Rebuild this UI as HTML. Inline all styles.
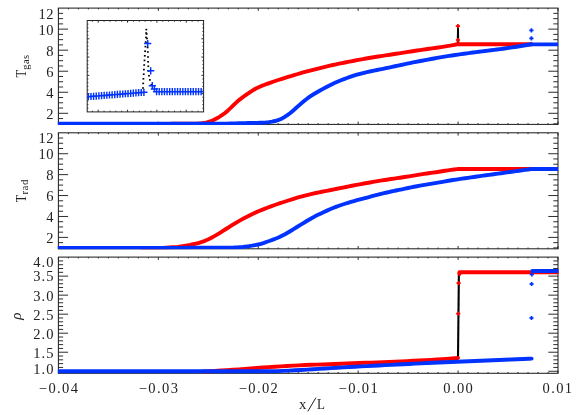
<!DOCTYPE html>
<html><head><meta charset="utf-8"><title>chart</title>
<style>html,body{margin:0;padding:0;background:#fff;}body{width:581px;height:415px;overflow:hidden;font-family:"Liberation Serif",serif;}svg{display:block;will-change:transform;}</style></head>
<body>
<svg width="581" height="415" viewBox="0 0 581 415">
<rect width="581" height="415" fill="#fff"/>
<rect x="58.40" y="8.10" width="499.60" height="116.30" fill="none" stroke="#222" stroke-width="1.05"/>
<path d="M58.40,8.10 v2.80 M58.40,124.40 v-2.80 M68.39,8.10 v1.30 M68.39,124.40 v-1.30 M78.38,8.10 v1.30 M78.38,124.40 v-1.30 M88.38,8.10 v1.30 M88.38,124.40 v-1.30 M98.37,8.10 v1.30 M98.37,124.40 v-1.30 M108.36,8.10 v1.30 M108.36,124.40 v-1.30 M118.35,8.10 v1.30 M118.35,124.40 v-1.30 M128.34,8.10 v1.30 M128.34,124.40 v-1.30 M138.34,8.10 v1.30 M138.34,124.40 v-1.30 M148.33,8.10 v1.30 M148.33,124.40 v-1.30 M158.32,8.10 v2.80 M158.32,124.40 v-2.80 M168.31,8.10 v1.30 M168.31,124.40 v-1.30 M178.30,8.10 v1.30 M178.30,124.40 v-1.30 M188.30,8.10 v1.30 M188.30,124.40 v-1.30 M198.29,8.10 v1.30 M198.29,124.40 v-1.30 M208.28,8.10 v1.30 M208.28,124.40 v-1.30 M218.27,8.10 v1.30 M218.27,124.40 v-1.30 M228.26,8.10 v1.30 M228.26,124.40 v-1.30 M238.26,8.10 v1.30 M238.26,124.40 v-1.30 M248.25,8.10 v1.30 M248.25,124.40 v-1.30 M258.24,8.10 v2.80 M258.24,124.40 v-2.80 M268.23,8.10 v1.30 M268.23,124.40 v-1.30 M278.22,8.10 v1.30 M278.22,124.40 v-1.30 M288.22,8.10 v1.30 M288.22,124.40 v-1.30 M298.21,8.10 v1.30 M298.21,124.40 v-1.30 M308.20,8.10 v1.30 M308.20,124.40 v-1.30 M318.19,8.10 v1.30 M318.19,124.40 v-1.30 M328.18,8.10 v1.30 M328.18,124.40 v-1.30 M338.18,8.10 v1.30 M338.18,124.40 v-1.30 M348.17,8.10 v1.30 M348.17,124.40 v-1.30 M358.16,8.10 v2.80 M358.16,124.40 v-2.80 M368.15,8.10 v1.30 M368.15,124.40 v-1.30 M378.14,8.10 v1.30 M378.14,124.40 v-1.30 M388.14,8.10 v1.30 M388.14,124.40 v-1.30 M398.13,8.10 v1.30 M398.13,124.40 v-1.30 M408.12,8.10 v1.30 M408.12,124.40 v-1.30 M418.11,8.10 v1.30 M418.11,124.40 v-1.30 M428.10,8.10 v1.30 M428.10,124.40 v-1.30 M438.10,8.10 v1.30 M438.10,124.40 v-1.30 M448.09,8.10 v1.30 M448.09,124.40 v-1.30 M458.08,8.10 v2.80 M458.08,124.40 v-2.80 M468.07,8.10 v1.30 M468.07,124.40 v-1.30 M478.06,8.10 v1.30 M478.06,124.40 v-1.30 M488.06,8.10 v1.30 M488.06,124.40 v-1.30 M498.05,8.10 v1.30 M498.05,124.40 v-1.30 M508.04,8.10 v1.30 M508.04,124.40 v-1.30 M518.03,8.10 v1.30 M518.03,124.40 v-1.30 M528.02,8.10 v1.30 M528.02,124.40 v-1.30 M538.02,8.10 v1.30 M538.02,124.40 v-1.30 M548.01,8.10 v1.30 M548.01,124.40 v-1.30 M558.00,8.10 v2.80 M558.00,124.40 v-2.80 " stroke="#222" stroke-width="0.95" fill="none"/>
<rect x="58.40" y="132.80" width="499.60" height="116.00" fill="none" stroke="#222" stroke-width="1.05"/>
<path d="M58.40,132.80 v2.80 M58.40,248.80 v-2.80 M68.39,132.80 v1.30 M68.39,248.80 v-1.30 M78.38,132.80 v1.30 M78.38,248.80 v-1.30 M88.38,132.80 v1.30 M88.38,248.80 v-1.30 M98.37,132.80 v1.30 M98.37,248.80 v-1.30 M108.36,132.80 v1.30 M108.36,248.80 v-1.30 M118.35,132.80 v1.30 M118.35,248.80 v-1.30 M128.34,132.80 v1.30 M128.34,248.80 v-1.30 M138.34,132.80 v1.30 M138.34,248.80 v-1.30 M148.33,132.80 v1.30 M148.33,248.80 v-1.30 M158.32,132.80 v2.80 M158.32,248.80 v-2.80 M168.31,132.80 v1.30 M168.31,248.80 v-1.30 M178.30,132.80 v1.30 M178.30,248.80 v-1.30 M188.30,132.80 v1.30 M188.30,248.80 v-1.30 M198.29,132.80 v1.30 M198.29,248.80 v-1.30 M208.28,132.80 v1.30 M208.28,248.80 v-1.30 M218.27,132.80 v1.30 M218.27,248.80 v-1.30 M228.26,132.80 v1.30 M228.26,248.80 v-1.30 M238.26,132.80 v1.30 M238.26,248.80 v-1.30 M248.25,132.80 v1.30 M248.25,248.80 v-1.30 M258.24,132.80 v2.80 M258.24,248.80 v-2.80 M268.23,132.80 v1.30 M268.23,248.80 v-1.30 M278.22,132.80 v1.30 M278.22,248.80 v-1.30 M288.22,132.80 v1.30 M288.22,248.80 v-1.30 M298.21,132.80 v1.30 M298.21,248.80 v-1.30 M308.20,132.80 v1.30 M308.20,248.80 v-1.30 M318.19,132.80 v1.30 M318.19,248.80 v-1.30 M328.18,132.80 v1.30 M328.18,248.80 v-1.30 M338.18,132.80 v1.30 M338.18,248.80 v-1.30 M348.17,132.80 v1.30 M348.17,248.80 v-1.30 M358.16,132.80 v2.80 M358.16,248.80 v-2.80 M368.15,132.80 v1.30 M368.15,248.80 v-1.30 M378.14,132.80 v1.30 M378.14,248.80 v-1.30 M388.14,132.80 v1.30 M388.14,248.80 v-1.30 M398.13,132.80 v1.30 M398.13,248.80 v-1.30 M408.12,132.80 v1.30 M408.12,248.80 v-1.30 M418.11,132.80 v1.30 M418.11,248.80 v-1.30 M428.10,132.80 v1.30 M428.10,248.80 v-1.30 M438.10,132.80 v1.30 M438.10,248.80 v-1.30 M448.09,132.80 v1.30 M448.09,248.80 v-1.30 M458.08,132.80 v2.80 M458.08,248.80 v-2.80 M468.07,132.80 v1.30 M468.07,248.80 v-1.30 M478.06,132.80 v1.30 M478.06,248.80 v-1.30 M488.06,132.80 v1.30 M488.06,248.80 v-1.30 M498.05,132.80 v1.30 M498.05,248.80 v-1.30 M508.04,132.80 v1.30 M508.04,248.80 v-1.30 M518.03,132.80 v1.30 M518.03,248.80 v-1.30 M528.02,132.80 v1.30 M528.02,248.80 v-1.30 M538.02,132.80 v1.30 M538.02,248.80 v-1.30 M548.01,132.80 v1.30 M548.01,248.80 v-1.30 M558.00,132.80 v2.80 M558.00,248.80 v-2.80 " stroke="#222" stroke-width="0.95" fill="none"/>
<rect x="58.40" y="257.10" width="499.60" height="116.20" fill="none" stroke="#222" stroke-width="1.05"/>
<path d="M58.40,257.10 v2.80 M58.40,373.30 v-2.80 M68.39,257.10 v1.30 M68.39,373.30 v-1.30 M78.38,257.10 v1.30 M78.38,373.30 v-1.30 M88.38,257.10 v1.30 M88.38,373.30 v-1.30 M98.37,257.10 v1.30 M98.37,373.30 v-1.30 M108.36,257.10 v1.30 M108.36,373.30 v-1.30 M118.35,257.10 v1.30 M118.35,373.30 v-1.30 M128.34,257.10 v1.30 M128.34,373.30 v-1.30 M138.34,257.10 v1.30 M138.34,373.30 v-1.30 M148.33,257.10 v1.30 M148.33,373.30 v-1.30 M158.32,257.10 v2.80 M158.32,373.30 v-2.80 M168.31,257.10 v1.30 M168.31,373.30 v-1.30 M178.30,257.10 v1.30 M178.30,373.30 v-1.30 M188.30,257.10 v1.30 M188.30,373.30 v-1.30 M198.29,257.10 v1.30 M198.29,373.30 v-1.30 M208.28,257.10 v1.30 M208.28,373.30 v-1.30 M218.27,257.10 v1.30 M218.27,373.30 v-1.30 M228.26,257.10 v1.30 M228.26,373.30 v-1.30 M238.26,257.10 v1.30 M238.26,373.30 v-1.30 M248.25,257.10 v1.30 M248.25,373.30 v-1.30 M258.24,257.10 v2.80 M258.24,373.30 v-2.80 M268.23,257.10 v1.30 M268.23,373.30 v-1.30 M278.22,257.10 v1.30 M278.22,373.30 v-1.30 M288.22,257.10 v1.30 M288.22,373.30 v-1.30 M298.21,257.10 v1.30 M298.21,373.30 v-1.30 M308.20,257.10 v1.30 M308.20,373.30 v-1.30 M318.19,257.10 v1.30 M318.19,373.30 v-1.30 M328.18,257.10 v1.30 M328.18,373.30 v-1.30 M338.18,257.10 v1.30 M338.18,373.30 v-1.30 M348.17,257.10 v1.30 M348.17,373.30 v-1.30 M358.16,257.10 v2.80 M358.16,373.30 v-2.80 M368.15,257.10 v1.30 M368.15,373.30 v-1.30 M378.14,257.10 v1.30 M378.14,373.30 v-1.30 M388.14,257.10 v1.30 M388.14,373.30 v-1.30 M398.13,257.10 v1.30 M398.13,373.30 v-1.30 M408.12,257.10 v1.30 M408.12,373.30 v-1.30 M418.11,257.10 v1.30 M418.11,373.30 v-1.30 M428.10,257.10 v1.30 M428.10,373.30 v-1.30 M438.10,257.10 v1.30 M438.10,373.30 v-1.30 M448.09,257.10 v1.30 M448.09,373.30 v-1.30 M458.08,257.10 v2.80 M458.08,373.30 v-2.80 M468.07,257.10 v1.30 M468.07,373.30 v-1.30 M478.06,257.10 v1.30 M478.06,373.30 v-1.30 M488.06,257.10 v1.30 M488.06,373.30 v-1.30 M498.05,257.10 v1.30 M498.05,373.30 v-1.30 M508.04,257.10 v1.30 M508.04,373.30 v-1.30 M518.03,257.10 v1.30 M518.03,373.30 v-1.30 M528.02,257.10 v1.30 M528.02,373.30 v-1.30 M538.02,257.10 v1.30 M538.02,373.30 v-1.30 M548.01,257.10 v1.30 M548.01,373.30 v-1.30 M558.00,257.10 v2.80 M558.00,373.30 v-2.80 " stroke="#222" stroke-width="0.95" fill="none"/>
<path d="M58.40,13.36 h4.70 M558.00,13.36 h-4.70 M58.40,18.62 h4.70 M558.00,18.62 h-4.70 M58.40,23.88 h4.70 M558.00,23.88 h-4.70 M58.40,29.14 h9.70 M558.00,29.14 h-9.70 M58.40,34.40 h4.70 M558.00,34.40 h-4.70 M58.40,39.66 h4.70 M558.00,39.66 h-4.70 M58.40,44.92 h4.70 M558.00,44.92 h-4.70 M58.40,50.18 h9.70 M558.00,50.18 h-9.70 M58.40,55.44 h4.70 M558.00,55.44 h-4.70 M58.40,60.70 h4.70 M558.00,60.70 h-4.70 M58.40,65.96 h4.70 M558.00,65.96 h-4.70 M58.40,71.22 h9.70 M558.00,71.22 h-9.70 M58.40,76.48 h4.70 M558.00,76.48 h-4.70 M58.40,81.74 h4.70 M558.00,81.74 h-4.70 M58.40,87.00 h4.70 M558.00,87.00 h-4.70 M58.40,92.26 h9.70 M558.00,92.26 h-9.70 M58.40,97.52 h4.70 M558.00,97.52 h-4.70 M58.40,102.78 h4.70 M558.00,102.78 h-4.70 M58.40,108.04 h4.70 M558.00,108.04 h-4.70 M58.40,113.30 h9.70 M558.00,113.30 h-9.70 M58.40,118.56 h4.70 M558.00,118.56 h-4.70 M58.40,123.82 h4.70 M558.00,123.82 h-4.70 " stroke="#222" stroke-width="0.95" fill="none"/>
<path d="M58.40,138.03 h4.70 M558.00,138.03 h-4.70 M58.40,143.26 h4.70 M558.00,143.26 h-4.70 M58.40,148.49 h4.70 M558.00,148.49 h-4.70 M58.40,153.72 h9.70 M558.00,153.72 h-9.70 M58.40,158.95 h4.70 M558.00,158.95 h-4.70 M58.40,164.18 h4.70 M558.00,164.18 h-4.70 M58.40,169.41 h4.70 M558.00,169.41 h-4.70 M58.40,174.64 h9.70 M558.00,174.64 h-9.70 M58.40,179.87 h4.70 M558.00,179.87 h-4.70 M58.40,185.10 h4.70 M558.00,185.10 h-4.70 M58.40,190.33 h4.70 M558.00,190.33 h-4.70 M58.40,195.56 h9.70 M558.00,195.56 h-9.70 M58.40,200.79 h4.70 M558.00,200.79 h-4.70 M58.40,206.02 h4.70 M558.00,206.02 h-4.70 M58.40,211.25 h4.70 M558.00,211.25 h-4.70 M58.40,216.48 h9.70 M558.00,216.48 h-9.70 M58.40,221.71 h4.70 M558.00,221.71 h-4.70 M58.40,226.94 h4.70 M558.00,226.94 h-4.70 M58.40,232.17 h4.70 M558.00,232.17 h-4.70 M58.40,237.40 h9.70 M558.00,237.40 h-9.70 M58.40,242.63 h4.70 M558.00,242.63 h-4.70 M58.40,247.86 h4.70 M558.00,247.86 h-4.70 " stroke="#222" stroke-width="0.95" fill="none"/>
<path d="M58.40,260.91 h4.70 M558.00,260.91 h-4.70 M58.40,264.71 h4.70 M558.00,264.71 h-4.70 M58.40,268.51 h4.70 M558.00,268.51 h-4.70 M58.40,272.32 h4.70 M558.00,272.32 h-4.70 M58.40,276.12 h9.70 M558.00,276.12 h-9.70 M58.40,279.93 h4.70 M558.00,279.93 h-4.70 M58.40,283.74 h4.70 M558.00,283.74 h-4.70 M58.40,287.54 h4.70 M558.00,287.54 h-4.70 M58.40,291.35 h4.70 M558.00,291.35 h-4.70 M58.40,295.15 h9.70 M558.00,295.15 h-9.70 M58.40,298.96 h4.70 M558.00,298.96 h-4.70 M58.40,302.76 h4.70 M558.00,302.76 h-4.70 M58.40,306.56 h4.70 M558.00,306.56 h-4.70 M58.40,310.37 h4.70 M558.00,310.37 h-4.70 M58.40,314.18 h9.70 M558.00,314.18 h-9.70 M58.40,317.98 h4.70 M558.00,317.98 h-4.70 M58.40,321.79 h4.70 M558.00,321.79 h-4.70 M58.40,325.59 h4.70 M558.00,325.59 h-4.70 M58.40,329.40 h4.70 M558.00,329.40 h-4.70 M58.40,333.20 h9.70 M558.00,333.20 h-9.70 M58.40,337.00 h4.70 M558.00,337.00 h-4.70 M58.40,340.81 h4.70 M558.00,340.81 h-4.70 M58.40,344.62 h4.70 M558.00,344.62 h-4.70 M58.40,348.42 h4.70 M558.00,348.42 h-4.70 M58.40,352.23 h9.70 M558.00,352.23 h-9.70 M58.40,356.03 h4.70 M558.00,356.03 h-4.70 M58.40,359.84 h4.70 M558.00,359.84 h-4.70 M58.40,363.64 h4.70 M558.00,363.64 h-4.70 M58.40,367.45 h4.70 M558.00,367.45 h-4.70 M58.40,371.25 h9.70 M558.00,371.25 h-9.70 " stroke="#222" stroke-width="0.95" fill="none"/>
<clipPath id="cp0"><rect x="57.90" y="7.60" width="500.60" height="117.30"/></clipPath>
<clipPath id="cp1"><rect x="57.90" y="132.30" width="500.60" height="117.00"/></clipPath>
<clipPath id="cp2"><rect x="57.90" y="256.60" width="500.60" height="117.20"/></clipPath>
<g clip-path="url(#cp0)">
<path d="M456.7,44 L457.1,26.5 L458.9,26.5 L459.3,44 Z" fill="#000"/>
<path d="M171.00,123.76 L174.00,123.76 L177.00,123.76 L180.00,123.76 L183.00,123.76 L186.00,123.76 L189.00,123.59 L192.00,123.58 L195.00,123.58 L198.00,123.56 L201.00,123.38 L204.00,123.05 L207.00,122.43 L210.00,121.48 L213.00,120.31 L216.00,118.81 L219.00,117.07 L222.00,115.20 L225.00,113.04 L228.00,110.44 L231.00,107.65 L234.00,104.71 L237.00,101.86 L240.00,99.35 L243.00,97.03 L246.00,94.85 L249.00,92.84 L252.00,90.86 L255.00,89.03 L258.00,87.56 L261.00,86.19 L264.00,85.03 L267.00,83.96 L270.00,82.84 L273.00,81.77 L276.00,80.75 L279.00,79.77 L282.00,78.82 L285.00,77.89 L288.00,76.98 L291.00,76.09 L294.00,75.16 L297.00,74.24 L300.00,73.35 L303.00,72.47 L306.00,71.66 L309.00,70.87 L312.00,70.09 L315.00,69.34 L318.00,68.55 L321.00,67.78 L324.00,67.02 L327.00,66.32 L330.00,65.65 L333.00,64.99 L336.00,64.34 L339.00,63.71 L342.00,63.09 L345.00,62.48 L348.00,61.88 L351.00,61.29 L354.00,60.72 L357.00,60.15 L360.00,59.59 L363.00,59.05 L366.00,58.51 L369.00,57.99 L372.00,57.50 L375.00,57.02 L378.00,56.55 L381.00,56.08 L384.00,55.62 L387.00,55.17 L390.00,54.72 L393.00,54.26 L396.00,53.80 L399.00,53.34 L402.00,52.89 L405.00,52.41 L408.00,51.93 L411.00,51.46 L414.00,50.99 L417.00,50.54 L420.00,50.10 L423.00,49.66 L426.00,49.22 L429.00,48.80 L432.00,48.38 L435.00,47.96 L438.00,47.54 L441.00,47.07 L444.00,46.59 L447.00,46.12 L450.00,45.64 L453.00,45.07 L456.00,44.49 L458.00,44.10" fill="none" stroke="#ff0000" stroke-width="3.90" stroke-linecap="round" stroke-linejoin="round"/>
<path d="M458.00,44.20 L532.50,44.20" fill="none" stroke="#ff0000" stroke-width="3.90" stroke-linecap="butt" stroke-linejoin="round"/>
<path d="M455.80,26.10 h4.20 M457.90,24.00 v4.20" stroke="#ff0000" stroke-width="1.70" fill="none"/>
<rect x="456.90" y="25.10" width="2.00" height="2.00" fill="#ff0000" transform="rotate(45 457.90 26.10)"/>
<path d="M455.90,40.00 h4.20 M458.00,37.90 v4.20" stroke="#ff0000" stroke-width="1.70" fill="none"/>
<rect x="457.00" y="39.00" width="2.00" height="2.00" fill="#ff0000" transform="rotate(45 458.00 40.00)"/>
<path d="M58.00,123.60 L200.00,123.60 L203.00,123.60 L206.00,123.60 L209.00,123.60 L212.00,123.60 L215.00,123.60 L218.00,123.60 L221.00,123.60 L224.00,123.60 L227.00,123.58 L230.00,123.52 L233.00,123.45 L236.00,123.37 L239.00,123.28 L242.00,123.21 L245.00,123.14 L248.00,123.07 L251.00,123.00 L254.00,122.92 L257.00,122.85 L260.00,122.74 L263.00,122.64 L266.00,122.46 L269.00,122.15 L272.00,121.64 L275.00,121.02 L278.00,120.16 L281.00,118.93 L284.00,117.36 L287.00,115.42 L290.00,113.23 L293.00,110.71 L296.00,108.03 L299.00,105.34 L302.00,102.72 L305.00,100.24 L308.00,97.93 L311.00,95.87 L314.00,93.99 L317.00,92.23 L320.00,90.56 L323.00,88.90 L326.00,87.26 L329.00,85.69 L332.00,84.16 L335.00,82.81 L338.00,81.51 L341.00,80.27 L344.00,79.09 L347.00,77.95 L350.00,76.88 L353.00,75.88 L356.00,74.96 L359.00,74.09 L362.00,73.29 L365.00,72.55 L368.00,71.85 L371.00,71.23 L374.00,70.62 L377.00,70.02 L380.00,69.41 L383.00,68.80 L386.00,68.18 L389.00,67.54 L392.00,66.91 L395.00,66.27 L398.00,65.64 L401.00,65.01 L404.00,64.36 L407.00,63.71 L410.00,63.07 L413.00,62.44 L416.00,61.85 L419.00,61.28 L422.00,60.72 L425.00,60.17 L428.00,59.60 L431.00,59.03 L434.00,58.47 L437.00,57.93 L440.00,57.40 L443.00,56.89 L446.00,56.40 L449.00,55.92 L452.00,55.46 L455.00,55.00 L458.00,54.56 L461.00,54.13 L464.00,53.73 L467.00,53.33 L470.00,52.94 L473.00,52.55 L476.00,52.17 L479.00,51.79 L482.00,51.42 L485.00,51.05 L488.00,50.67 L491.00,50.29 L494.00,49.91 L497.00,49.52 L500.00,49.12 L503.00,48.71 L506.00,48.30 L509.00,47.87 L512.00,47.44 L515.00,46.98 L518.00,46.52 L521.00,46.04 L524.00,45.54 L527.00,45.02 L530.00,44.49 L531.40,44.23" fill="none" stroke="#0033ff" stroke-width="3.90" stroke-linecap="round" stroke-linejoin="round"/>
<path d="M531.40,44.40 L558.00,44.40" fill="none" stroke="#0033ff" stroke-width="3.90" stroke-linecap="butt" stroke-linejoin="round"/>
<path d="M529.30,30.40 h4.20 M531.40,28.30 v4.20" stroke="#0033ff" stroke-width="1.70" fill="none"/>
<rect x="530.40" y="29.40" width="2.00" height="2.00" fill="#0033ff" transform="rotate(45 531.40 30.40)"/>
<path d="M529.30,38.30 h4.20 M531.40,36.20 v4.20" stroke="#0033ff" stroke-width="1.70" fill="none"/>
<rect x="530.40" y="37.30" width="2.00" height="2.00" fill="#0033ff" transform="rotate(45 531.40 38.30)"/>
</g><g clip-path="url(#cp1)">
<path d="M142.00,248.06 L145.00,248.06 L148.00,248.06 L151.00,248.06 L154.00,248.06 L157.00,248.06 L160.00,248.06 L163.00,247.85 L166.00,247.68 L169.00,247.48 L172.00,247.32 L175.00,247.14 L178.00,246.82 L181.00,246.39 L184.00,245.96 L187.00,245.50 L190.00,244.93 L193.00,244.25 L196.00,243.56 L199.00,242.80 L202.00,241.89 L205.00,240.83 L208.00,239.52 L211.00,238.04 L214.00,236.41 L217.00,234.68 L220.00,232.84 L223.00,230.93 L226.00,229.01 L229.00,227.11 L232.00,225.21 L235.00,223.36 L238.00,221.59 L241.00,219.90 L244.00,218.31 L247.00,216.81 L250.00,215.27 L253.00,213.73 L256.00,212.35 L259.00,211.06 L262.00,209.84 L265.00,208.66 L268.00,207.50 L271.00,206.38 L274.00,205.29 L277.00,204.24 L280.00,203.22 L283.00,202.24 L286.00,201.24 L289.00,200.24 L292.00,199.28 L295.00,198.34 L298.00,197.48 L301.00,196.67 L304.00,195.89 L307.00,195.13 L310.00,194.40 L313.00,193.69 L316.00,193.01 L319.00,192.34 L322.00,191.72 L325.00,191.13 L328.00,190.55 L331.00,189.99 L334.00,189.38 L337.00,188.77 L340.00,188.17 L343.00,187.57 L346.00,186.97 L349.00,186.36 L352.00,185.76 L355.00,185.17 L358.00,184.61 L361.00,184.07 L364.00,183.54 L367.00,183.00 L370.00,182.48 L373.00,181.95 L376.00,181.43 L379.00,180.91 L382.00,180.42 L385.00,179.95 L388.00,179.47 L391.00,179.01 L394.00,178.57 L397.00,178.14 L400.00,177.71 L403.00,177.26 L406.00,176.80 L409.00,176.34 L412.00,175.88 L415.00,175.41 L418.00,174.91 L421.00,174.41 L424.00,173.92 L427.00,173.46 L430.00,173.04 L433.00,172.62 L436.00,172.22 L439.00,171.78 L442.00,171.28 L445.00,170.79 L448.00,170.31 L451.00,169.87 L454.00,169.49 L457.00,169.13 L458.00,169.01" fill="none" stroke="#ff0000" stroke-width="3.90" stroke-linecap="round" stroke-linejoin="round"/>
<path d="M458.00,169.00 L532.50,169.00" fill="none" stroke="#ff0000" stroke-width="3.90" stroke-linecap="butt" stroke-linejoin="round"/>
<path d="M58.00,247.90 L180.00,247.90 L183.00,247.84 L186.00,247.74 L189.00,247.67 L192.00,247.64 L195.00,247.63 L198.00,247.63 L201.00,247.63 L204.00,247.63 L207.00,247.63 L210.00,247.63 L213.00,247.63 L216.00,247.63 L219.00,247.63 L222.00,247.63 L225.00,247.63 L228.00,247.63 L231.00,247.63 L234.00,247.56 L237.00,247.36 L240.00,247.09 L243.00,246.84 L246.00,246.52 L249.00,246.13 L252.00,245.66 L255.00,245.10 L258.00,244.49 L261.00,243.79 L264.00,242.83 L267.00,241.76 L270.00,240.75 L273.00,239.62 L276.00,238.52 L279.00,237.31 L282.00,235.81 L285.00,234.23 L288.00,232.49 L291.00,230.72 L294.00,228.87 L297.00,227.02 L300.00,225.16 L303.00,223.32 L306.00,221.48 L309.00,219.70 L312.00,217.99 L315.00,216.34 L318.00,214.86 L321.00,213.42 L324.00,212.00 L327.00,210.61 L330.00,209.28 L333.00,208.03 L336.00,206.85 L339.00,205.76 L342.00,204.73 L345.00,203.75 L348.00,202.81 L351.00,201.92 L354.00,201.05 L357.00,200.20 L360.00,199.39 L363.00,198.60 L366.00,197.81 L369.00,197.03 L372.00,196.23 L375.00,195.45 L378.00,194.68 L381.00,193.93 L384.00,193.20 L387.00,192.49 L390.00,191.78 L393.00,191.15 L396.00,190.52 L399.00,189.92 L402.00,189.32 L405.00,188.67 L408.00,188.03 L411.00,187.40 L414.00,186.78 L417.00,186.23 L420.00,185.69 L423.00,185.16 L426.00,184.64 L429.00,184.12 L432.00,183.61 L435.00,183.12 L438.00,182.63 L441.00,182.08 L444.00,181.55 L447.00,181.02 L450.00,180.51 L453.00,180.04 L456.00,179.59 L459.00,179.14 L462.00,178.69 L465.00,178.25 L468.00,177.81 L471.00,177.38 L474.00,176.95 L477.00,176.53 L480.00,176.11 L483.00,175.69 L486.00,175.28 L489.00,174.87 L492.00,174.46 L495.00,174.05 L498.00,173.64 L501.00,173.23 L504.00,172.82 L507.00,172.41 L510.00,172.01 L513.00,171.60 L516.00,171.19 L519.00,170.77 L522.00,170.36 L525.00,169.94 L528.00,169.52 L531.00,169.10 L531.40,169.04" fill="none" stroke="#0033ff" stroke-width="3.90" stroke-linecap="round" stroke-linejoin="round"/>
<path d="M531.40,169.00 L558.00,169.00" fill="none" stroke="#0033ff" stroke-width="3.90" stroke-linecap="butt" stroke-linejoin="round"/>
</g><g clip-path="url(#cp2)">
<path d="M458.00,358.40 L458.90,272.30" fill="none" stroke="#000" stroke-width="2.10" stroke-linecap="butt" stroke-linejoin="round"/>
<path d="M203.00,371.48 L209.00,371.25 L215.00,370.86 L221.00,370.54 L227.00,370.18 L233.00,369.77 L239.00,369.33 L245.00,368.87 L251.00,368.40 L257.00,367.94 L263.00,367.50 L269.00,367.09 L275.00,366.70 L281.00,366.34 L287.00,365.99 L293.00,365.65 L299.00,365.33 L305.00,365.03 L311.00,364.79 L317.00,364.61 L323.00,364.43 L329.00,364.27 L335.00,364.03 L341.00,363.77 L347.00,363.52 L353.00,363.28 L359.00,363.04 L365.00,362.81 L371.00,362.58 L377.00,362.35 L383.00,362.12 L389.00,361.89 L395.00,361.65 L401.00,361.41 L407.00,361.12 L413.00,360.82 L419.00,360.52 L425.00,360.20 L431.00,359.87 L437.00,359.52 L443.00,359.13 L449.00,358.69 L455.00,358.24 L458.00,358.00" fill="none" stroke="#ff0000" stroke-width="3.90" stroke-linecap="round" stroke-linejoin="round"/>
<path d="M459.40,274.00 L459.40,272.30 L558.00,272.30" fill="none" stroke="#ff0000" stroke-width="3.90" stroke-linecap="round" stroke-linejoin="round"/>
<path d="M456.10,313.70 h4.20 M458.20,311.60 v4.20" stroke="#ff0000" stroke-width="1.70" fill="none"/>
<rect x="457.20" y="312.70" width="2.00" height="2.00" fill="#ff0000" transform="rotate(45 458.20 313.70)"/>
<path d="M456.50,283.20 h4.20 M458.60,281.10 v4.20" stroke="#ff0000" stroke-width="1.70" fill="none"/>
<rect x="457.60" y="282.20" width="2.00" height="2.00" fill="#ff0000" transform="rotate(45 458.60 283.20)"/>
<path d="M58.00,371.30 L220.00,371.30 L223.00,371.25 L229.00,371.25 L235.00,371.25 L241.00,371.25 L247.00,371.25 L253.00,371.25 L259.00,371.25 L265.00,371.25 L271.00,371.25 L277.00,371.11 L283.00,370.89 L289.00,370.63 L295.00,370.30 L301.00,369.95 L307.00,369.58 L313.00,369.20 L319.00,368.83 L325.00,368.46 L331.00,368.10 L337.00,367.74 L343.00,367.40 L349.00,367.06 L355.00,366.73 L361.00,366.41 L367.00,366.09 L373.00,365.77 L379.00,365.46 L385.00,365.15 L391.00,364.85 L397.00,364.56 L403.00,364.26 L409.00,363.95 L415.00,363.65 L421.00,363.36 L427.00,363.07 L433.00,362.79 L439.00,362.51 L445.00,362.24 L451.00,361.97 L457.00,361.70 L463.00,361.44 L469.00,361.19 L475.00,360.93 L481.00,360.68 L487.00,360.43 L493.00,360.18 L499.00,359.94 L505.00,359.70 L511.00,359.46 L517.00,359.23 L523.00,358.99 L529.00,358.76 L531.60,358.66" fill="none" stroke="#0033ff" stroke-width="3.90" stroke-linecap="round" stroke-linejoin="round"/>
<path d="M532.30,271.00 L558.00,271.00" fill="none" stroke="#0033ff" stroke-width="3.90" stroke-linecap="round" stroke-linejoin="round"/>
<path d="M529.40,318.00 h4.20 M531.50,315.90 v4.20" stroke="#0033ff" stroke-width="1.70" fill="none"/>
<rect x="530.50" y="317.00" width="2.00" height="2.00" fill="#0033ff" transform="rotate(45 531.50 318.00)"/>
<path d="M529.50,284.00 h4.20 M531.60,281.90 v4.20" stroke="#0033ff" stroke-width="1.70" fill="none"/>
<rect x="530.60" y="283.00" width="2.00" height="2.00" fill="#0033ff" transform="rotate(45 531.60 284.00)"/>
<path d="M529.70,274.50 h4.20 M531.80,272.40 v4.20" stroke="#0033ff" stroke-width="1.70" fill="none"/>
<rect x="530.80" y="273.50" width="2.00" height="2.00" fill="#0033ff" transform="rotate(45 531.80 274.50)"/>
</g>
<rect x="87.20" y="20.50" width="116.40" height="91.40" fill="#fff" stroke="#222" stroke-width="1.0"/>
<path d="M92.33,20.50 v1.20 M92.33,111.90 v-1.20 M98.20,20.50 v2.20 M98.20,111.90 v-2.20 M104.07,20.50 v1.20 M104.07,111.90 v-1.20 M109.94,20.50 v1.20 M109.94,111.90 v-1.20 M115.81,20.50 v1.20 M115.81,111.90 v-1.20 M121.68,20.50 v1.20 M121.68,111.90 v-1.20 M127.55,20.50 v2.20 M127.55,111.90 v-2.20 M133.42,20.50 v1.20 M133.42,111.90 v-1.20 M139.29,20.50 v1.20 M139.29,111.90 v-1.20 M145.16,20.50 v1.20 M145.16,111.90 v-1.20 M151.03,20.50 v1.20 M151.03,111.90 v-1.20 M156.90,20.50 v2.20 M156.90,111.90 v-2.20 M162.77,20.50 v1.20 M162.77,111.90 v-1.20 M168.64,20.50 v1.20 M168.64,111.90 v-1.20 M174.51,20.50 v1.20 M174.51,111.90 v-1.20 M180.38,20.50 v1.20 M180.38,111.90 v-1.20 M186.25,20.50 v2.20 M186.25,111.90 v-2.20 M192.12,20.50 v1.20 M192.12,111.90 v-1.20 M197.99,20.50 v1.20 M197.99,111.90 v-1.20 M87.20,24.16 h1.20 M203.60,24.16 h-1.20 M87.20,27.81 h1.20 M203.60,27.81 h-1.20 M87.20,31.47 h1.20 M203.60,31.47 h-1.20 M87.20,35.12 h1.20 M203.60,35.12 h-1.20 M87.20,38.78 h2.20 M203.60,38.78 h-2.20 M87.20,42.44 h1.20 M203.60,42.44 h-1.20 M87.20,46.09 h1.20 M203.60,46.09 h-1.20 M87.20,49.75 h1.20 M203.60,49.75 h-1.20 M87.20,53.40 h1.20 M203.60,53.40 h-1.20 M87.20,57.06 h2.20 M203.60,57.06 h-2.20 M87.20,60.72 h1.20 M203.60,60.72 h-1.20 M87.20,64.37 h1.20 M203.60,64.37 h-1.20 M87.20,68.03 h1.20 M203.60,68.03 h-1.20 M87.20,71.68 h1.20 M203.60,71.68 h-1.20 M87.20,75.34 h2.20 M203.60,75.34 h-2.20 M87.20,79.00 h1.20 M203.60,79.00 h-1.20 M87.20,82.65 h1.20 M203.60,82.65 h-1.20 M87.20,86.31 h1.20 M203.60,86.31 h-1.20 M87.20,89.96 h1.20 M203.60,89.96 h-1.20 M87.20,93.62 h2.20 M203.60,93.62 h-2.20 M87.20,97.28 h1.20 M203.60,97.28 h-1.20 M87.20,100.93 h1.20 M203.60,100.93 h-1.20 M87.20,104.59 h1.20 M203.60,104.59 h-1.20 M87.20,108.24 h1.20 M203.60,108.24 h-1.20 " stroke="#222" stroke-width="0.95" fill="none"/>
<rect x="142.10" y="87.20" width="1.8" height="1.6" fill="#000"/>
<rect x="142.30" y="82.60" width="1.8" height="1.6" fill="#000"/>
<rect x="142.50" y="78.00" width="1.8" height="1.6" fill="#000"/>
<rect x="142.80" y="73.40" width="1.8" height="1.6" fill="#000"/>
<rect x="143.00" y="68.80" width="1.8" height="1.6" fill="#000"/>
<rect x="143.30" y="64.20" width="1.8" height="1.6" fill="#000"/>
<rect x="143.60" y="59.60" width="1.8" height="1.6" fill="#000"/>
<rect x="143.90" y="55.00" width="1.8" height="1.6" fill="#000"/>
<rect x="144.20" y="50.40" width="1.8" height="1.6" fill="#000"/>
<rect x="144.50" y="45.80" width="1.8" height="1.6" fill="#000"/>
<rect x="144.80" y="41.20" width="1.8" height="1.6" fill="#000"/>
<rect x="145.10" y="36.60" width="1.8" height="1.6" fill="#000"/>
<rect x="145.30" y="32.20" width="1.8" height="1.6" fill="#000"/>
<rect x="145.40" y="28.80" width="1.8" height="1.6" fill="#000"/>
<rect x="145.70" y="33.20" width="1.8" height="1.6" fill="#000"/>
<rect x="146.10" y="37.70" width="1.8" height="1.6" fill="#000"/>
<rect x="146.40" y="42.20" width="1.8" height="1.6" fill="#000"/>
<rect x="146.70" y="46.70" width="1.8" height="1.6" fill="#000"/>
<rect x="146.90" y="51.20" width="1.8" height="1.6" fill="#000"/>
<rect x="147.10" y="56.20" width="1.8" height="1.6" fill="#000"/>
<rect x="147.20" y="61.00" width="1.8" height="1.6" fill="#000"/>
<rect x="147.40" y="65.50" width="1.8" height="1.6" fill="#000"/>
<rect x="147.70" y="70.20" width="1.8" height="1.6" fill="#000"/>
<rect x="148.10" y="74.90" width="1.8" height="1.6" fill="#000"/>
<rect x="149.00" y="79.10" width="1.8" height="1.6" fill="#000"/>
<rect x="150.50" y="83.90" width="1.8" height="1.6" fill="#000"/>
<clipPath id="ic"><rect x="87.20" y="20.50" width="116.40" height="91.40"/></clipPath>
<path d="M84.70,96.70 h7.20 M88.30,93.10 v7.20 M87.35,96.49 h7.20 M90.95,92.89 v7.20 M90.00,96.28 h7.20 M93.60,92.68 v7.20 M92.64,96.07 h7.20 M96.24,92.47 v7.20 M95.29,95.86 h7.20 M98.89,92.26 v7.20 M97.94,95.65 h7.20 M101.54,92.05 v7.20 M100.59,95.44 h7.20 M104.19,91.84 v7.20 M103.23,95.23 h7.20 M106.83,91.63 v7.20 M105.88,95.02 h7.20 M109.48,91.42 v7.20 M108.53,94.81 h7.20 M112.13,91.21 v7.20 M111.18,94.60 h7.20 M114.78,91.00 v7.20 M113.82,94.40 h7.20 M117.42,90.80 v7.20 M116.47,94.19 h7.20 M120.07,90.59 v7.20 M119.12,93.98 h7.20 M122.72,90.38 v7.20 M121.77,93.77 h7.20 M125.37,90.17 v7.20 M124.41,93.56 h7.20 M128.01,89.96 v7.20 M127.06,93.35 h7.20 M130.66,89.75 v7.20 M129.71,93.14 h7.20 M133.31,89.54 v7.20 M132.36,92.93 h7.20 M135.96,89.33 v7.20 M135.00,92.72 h7.20 M138.60,89.12 v7.20 M137.65,92.51 h7.20 M141.25,88.91 v7.20 M140.30,92.30 h7.20 M143.90,88.70 v7.20 M144.10,43.50 h7.20 M147.70,39.90 v7.20 M147.10,70.80 h7.20 M150.70,67.20 v7.20 M148.70,85.70 h7.20 M152.30,82.10 v7.20 M150.80,89.00 h7.20 M154.40,85.40 v7.20 M153.00,91.70 h7.20 M156.60,88.10 v7.20 M155.62,91.70 h7.20 M159.22,88.10 v7.20 M158.24,91.70 h7.20 M161.84,88.10 v7.20 M160.86,91.70 h7.20 M164.46,88.10 v7.20 M163.48,91.70 h7.20 M167.08,88.10 v7.20 M166.10,91.70 h7.20 M169.70,88.10 v7.20 M168.72,91.70 h7.20 M172.32,88.10 v7.20 M171.34,91.70 h7.20 M174.94,88.10 v7.20 M173.96,91.70 h7.20 M177.56,88.10 v7.20 M176.58,91.70 h7.20 M180.18,88.10 v7.20 M179.20,91.70 h7.20 M182.80,88.10 v7.20 M181.82,91.70 h7.20 M185.42,88.10 v7.20 M184.44,91.70 h7.20 M188.04,88.10 v7.20 M187.06,91.70 h7.20 M190.66,88.10 v7.20 M189.68,91.70 h7.20 M193.28,88.10 v7.20 M192.30,91.70 h7.20 M195.90,88.10 v7.20 M194.92,91.70 h7.20 M198.52,88.10 v7.20 M197.54,91.70 h7.20 M201.14,88.10 v7.20 " stroke="#0033ff" stroke-width="1.45" fill="none" clip-path="url(#ic)"/>
<g style="filter:grayscale(1)" fill="#222" font-family="Liberation Serif, serif">
<text x="54.10" y="18.55" font-size="14.5" text-anchor="end" letter-spacing="0.50">12</text>
<text x="54.10" y="34.89" font-size="14.5" text-anchor="end" letter-spacing="0.50">10</text>
<text x="54.10" y="55.93" font-size="14.5" text-anchor="end" letter-spacing="0.50">8</text>
<text x="54.10" y="76.97" font-size="14.5" text-anchor="end" letter-spacing="0.50">6</text>
<text x="54.10" y="98.01" font-size="14.5" text-anchor="end" letter-spacing="0.50">4</text>
<text x="54.10" y="119.05" font-size="14.5" text-anchor="end" letter-spacing="0.50">2</text>
<text x="54.10" y="142.65" font-size="14.5" text-anchor="end" letter-spacing="0.50">12</text>
<text x="54.10" y="158.87" font-size="14.5" text-anchor="end" letter-spacing="0.50">10</text>
<text x="54.10" y="179.79" font-size="14.5" text-anchor="end" letter-spacing="0.50">8</text>
<text x="54.10" y="200.71" font-size="14.5" text-anchor="end" letter-spacing="0.50">6</text>
<text x="54.10" y="221.63" font-size="14.5" text-anchor="end" letter-spacing="0.50">4</text>
<text x="54.10" y="242.55" font-size="14.5" text-anchor="end" letter-spacing="0.50">2</text>
<text x="54.70" y="266.95" font-size="14.5" text-anchor="end" letter-spacing="1.10">4.0</text>
<text x="54.70" y="281.48" font-size="14.5" text-anchor="end" letter-spacing="1.10">3.5</text>
<text x="54.70" y="300.50" font-size="14.5" text-anchor="end" letter-spacing="1.10">3.0</text>
<text x="54.70" y="319.53" font-size="14.5" text-anchor="end" letter-spacing="1.10">2.5</text>
<text x="54.70" y="338.55" font-size="14.5" text-anchor="end" letter-spacing="1.10">2.0</text>
<text x="54.70" y="357.58" font-size="14.5" text-anchor="end" letter-spacing="1.10">1.5</text>
<text x="54.70" y="374.40" font-size="14.5" text-anchor="end" letter-spacing="1.10">1.0</text>
<text x="59.10" y="392.6" font-size="14.5" text-anchor="middle" letter-spacing="1.40">−0.04</text>
<text x="159.02" y="392.6" font-size="14.5" text-anchor="middle" letter-spacing="1.40">−0.03</text>
<text x="258.94" y="392.6" font-size="14.5" text-anchor="middle" letter-spacing="1.40">−0.02</text>
<text x="358.86" y="392.6" font-size="14.5" text-anchor="middle" letter-spacing="1.40">−0.01</text>
<text x="458.78" y="392.6" font-size="14.5" text-anchor="middle" letter-spacing="1.40">0.00</text>
<text x="558.00" y="392.6" font-size="14.5" text-anchor="middle" letter-spacing="1.40">0.01</text>
<text x="298.9" y="408.8" font-size="14.8">x</text><text x="317.0" y="408.8" font-size="14.8" textLength="7.9" lengthAdjust="spacingAndGlyphs">L</text><path d="M307.8,411.4 L315.9,397.7" stroke="#222" stroke-width="1.0" fill="none"/>
<g transform="translate(25.6,77.4) rotate(-90)"><text x="0" y="0" font-size="14.8" textLength="7.6" lengthAdjust="spacingAndGlyphs">T</text><text x="7.6" y="3.4" font-size="10.5" letter-spacing="0.45">gas</text></g>
<g transform="translate(25.6,202.3) rotate(-90)"><text x="0" y="0" font-size="14.8" textLength="7.4" lengthAdjust="spacingAndGlyphs">T</text><text x="7.8" y="2.7" font-size="11" letter-spacing="0.45">rad</text></g>
<g transform="translate(21.3,319.7) rotate(-90)"><text x="0" y="0" font-size="15" font-style="italic">ρ</text></g>
</g>
</svg>
</body></html>
